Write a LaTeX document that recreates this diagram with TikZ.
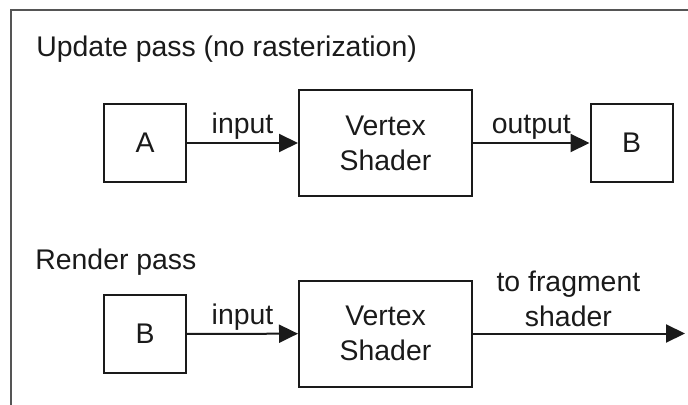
\documentclass[tikz,border=0pt]{standalone}
\usepackage{fontspec}
\setmainfont{Liberation Sans}
\usepackage{xcolor}
\usetikzlibrary{arrows.meta,positioning,calc}
\definecolor{ink}{HTML}{1A1A1A}
\definecolor{frame}{HTML}{555555}
\tikzset{
  pass/.style = {draw = ink, line width = 1pt, minimum width = 41pt, minimum height = 39pt, inner sep = 0pt},
  shaderbox/.style = {draw = ink, line width = 1pt, minimum width = 86.5pt, minimum height = 53pt, align = center, inner sep = 0pt},
  flow/.style = {draw = ink, line width = 1pt, -{Triangle[length = 9.5pt, width = 9pt]}},
  lbl/.style = {font = \fontsize{14.2}{17.5}\selectfont, text = ink}
}
\begin{document}
\begin{tikzpicture}[x = .5pt, y = -.5pt, every node/.style = {lbl}]
\useasboundingbox (0,0) rectangle (688,405);
% Frame
\draw[frame, line width = 1.1pt] (11,405) -- (11,10) -- (688,10);
% Headings
\node[anchor = base west, inner sep = 0pt] (update) at (36,57) {Update pass (no rasterization)};
\node[anchor = base west, inner sep = 0pt] (render) at (35,269) {Render pass};
% Update pass
\node[pass] (a) at (145,143) {A};
\node[shaderbox] (vs1) at (385.5,143) {Vertex\\Shader};
\node[pass] (bout) at (631.5,143) {B};
\draw[flow] (a) -- node[above, inner sep = 1.2pt] {input} (vs1);
\draw[flow] (vs1) -- node[above, inner sep = 1.2pt] {output} (bout);
% Render pass
\node[pass] (bin) at (145,334) {B};
\node[shaderbox] (vs2) at (385.5,333.5) {Vertex\\Shader};
\coordinate (frag) at (685,333.5);
\draw[flow] (bin) -- node[above, inner sep = 1.2pt] {input} (vs2);
\draw[flow] (vs2) -- node[above, pos = .45, align = center, inner sep = 3pt] {to fragment\\shader} (frag);
\end{tikzpicture}
\end{document}
